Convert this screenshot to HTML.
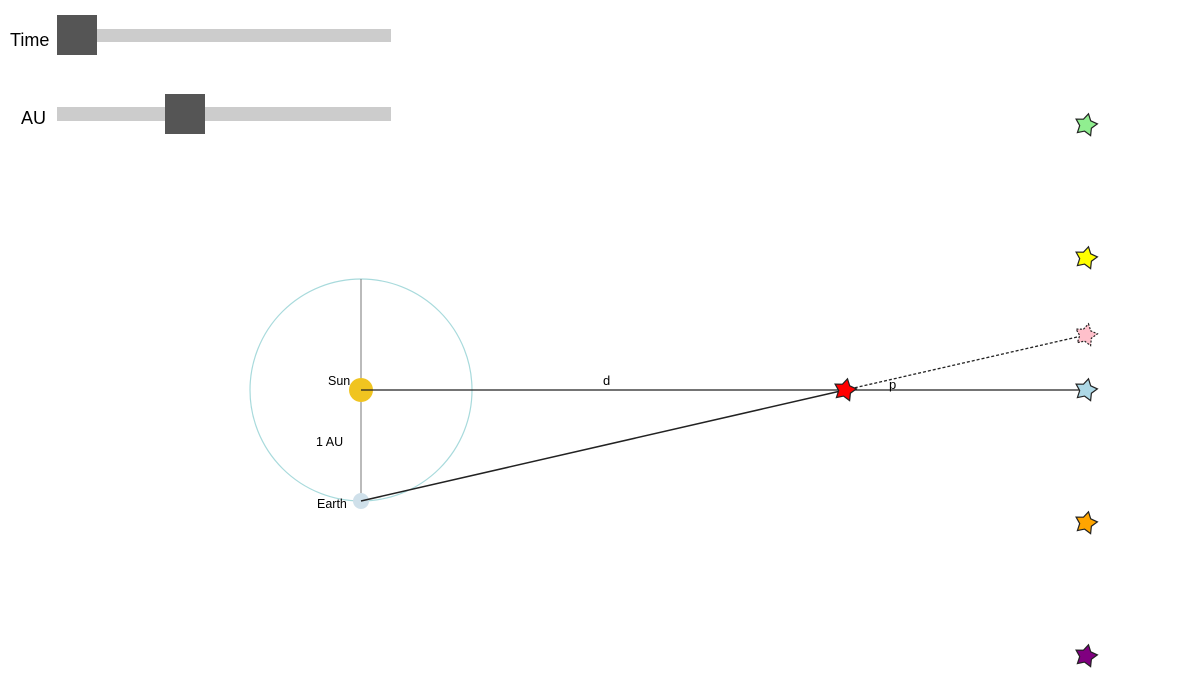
<!DOCTYPE html>
<html><head><meta charset="utf-8"><style>
html,body{margin:0;padding:0;background:#fff;}
svg{display:block;font-family:"Liberation Sans",Arial,sans-serif;}
</style></head><body>
<svg id="c" width="1200" height="675" viewBox="0 0 1200 675">
<g>
<text x="10" y="46" font-size="18">Time</text>
<rect x="57" y="29" width="334" height="13" fill="#cccccc"/>
<rect x="57" y="15" width="40" height="40" fill="#555555"/>
</g>
<g>
<text x="21" y="124" font-size="18">AU</text>
<rect x="57" y="107" width="334" height="14" fill="#cccccc"/>
<rect x="165" y="94" width="40" height="40" fill="#555555"/>
</g>
<circle cx="361" cy="390" r="111" fill="none" stroke="#a8dadc" stroke-width="1.2"/>
<line x1="361" y1="279" x2="361" y2="501" stroke="#777" stroke-width="1"/>
<circle cx="361" cy="390" r="12" fill="#f0c420"/>
<circle cx="361" cy="501" r="8" fill="#cfe0ea"/>
<line x1="361" y1="390" x2="1086" y2="390" stroke="#222" stroke-width="1.3"/>
<line x1="361" y1="501" x2="845" y2="390" stroke="#222" stroke-width="1.5"/>
<line x1="845" y1="390" x2="1086" y2="335" stroke="#222" stroke-width="1.3" stroke-dasharray="3,2"/>
<text x="328" y="385" font-size="12.5">Sun</text>
<text x="316" y="446" font-size="12.5">1 AU</text>
<text x="317" y="508" font-size="12.5">Earth</text>
<text x="603" y="385" font-size="13">d</text>
<text x="889" y="389" font-size="13">p</text>
<g id="stars"></g>
</svg>
<script>
const starColors=["#90ee90","#ffff00","#ffc0cb","#add8e6","#ffa500","#800080"];
const starYs=[125,258,335,390,523,656];
const starNames=["star-green","star-yellow","star-pink-apparent","star-blue","star-orange","star-purple"];
function starPath(cx,cy,R,r){let p="";const rot=0.22;for(let i=0;i<10;i++){const a=-Math.PI/2+rot+i*Math.PI/5;const rr=i%2?r:R;p+=(i?"L":"M")+(cx+rr*Math.cos(a)).toFixed(1)+","+(cy+rr*Math.sin(a)).toFixed(1);}return p+"Z";}
const g=document.getElementById("stars");
function addStar(cx,cy,fill,name,dash){const el=document.createElementNS("http://www.w3.org/2000/svg","path");
el.setAttribute("d",starPath(cx,cy,11.5,6.3));el.setAttribute("fill",fill);el.setAttribute("stroke","#222");el.setAttribute("stroke-width","1.2");
if(dash)el.setAttribute("stroke-dasharray","2,1.5");


g.appendChild(el);}
starYs.forEach((y,i)=>addStar(1086,y,starColors[i],starNames[i],i===2));
addStar(845,390,"#ff0000","target-star",false);
</script>
</body></html>
